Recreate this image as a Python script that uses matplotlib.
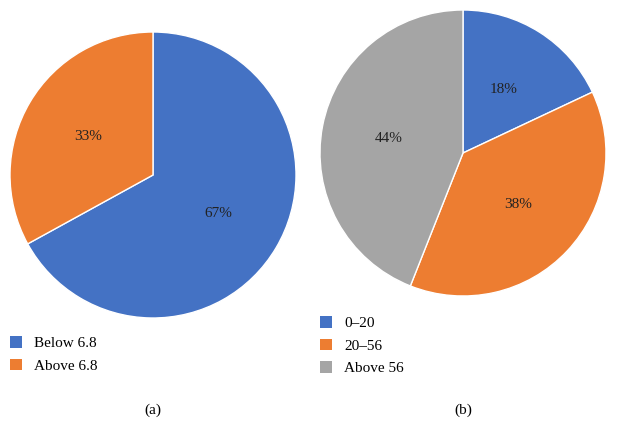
import matplotlib
matplotlib.use("Agg")
import matplotlib.pyplot as plt
from matplotlib.patches import Patch

plt.rcParams['font.family'] = ['Liberation Serif', 'DejaVu Serif']

# data
ph_labels = ['Below 6.8', 'Above 6.8']
ph_values = [67, 33]
age_labels = ['0–20', '20–56', 'Above 56']
age_values = [18, 38, 44]
colors = ['#4472C4', '#ED7D31', '#A5A5A5']

W, H = 617, 429
fig = plt.figure(figsize=(W / 100, H / 100), dpi=100)


def draw_pie(box, values, cols):
    ax = fig.add_axes(box)
    ax.pie(values, colors=cols, startangle=90, counterclock=False,
           autopct='%d%%', pctdistance=0.53,
           wedgeprops=dict(edgecolor='white', linewidth=1),
           textprops=dict(fontsize=11, color='#222222'))
    ax.set_xlim(-1.0, 1.0)
    ax.set_ylim(-1.0, 1.0)
    ax.set_aspect('equal')
    ax.axis('off')
    return ax


draw_pie([10 / W, (H - 318) / H, 286 / W, 286 / H], ph_values, colors[:2])
draw_pie([320 / W, (H - 296) / H, 286 / W, 286 / H], age_values, colors)


def add_legend(labels, cols, x, y):
    handles = [Patch(facecolor=c, edgecolor='none') for c in cols]
    fig.legend(handles, labels, loc='upper left', bbox_to_anchor=(x / W, 1 - y / H),
               frameon=False, fontsize=11, handlelength=0.8, handleheight=0.8,
               handletextpad=0.8, labelspacing=0.55, borderpad=0, borderaxespad=0)


add_legend(ph_labels, colors[:2], 10, 336)
add_legend(age_labels, colors, 320, 316)

fig.text(153 / W, 1 - 410 / H, '(a)', ha='center', va='center', fontsize=11)
fig.text(463 / W, 1 - 410 / H, '(b)', ha='center', va='center', fontsize=11)

fig.savefig('out.png', dpi=100)
